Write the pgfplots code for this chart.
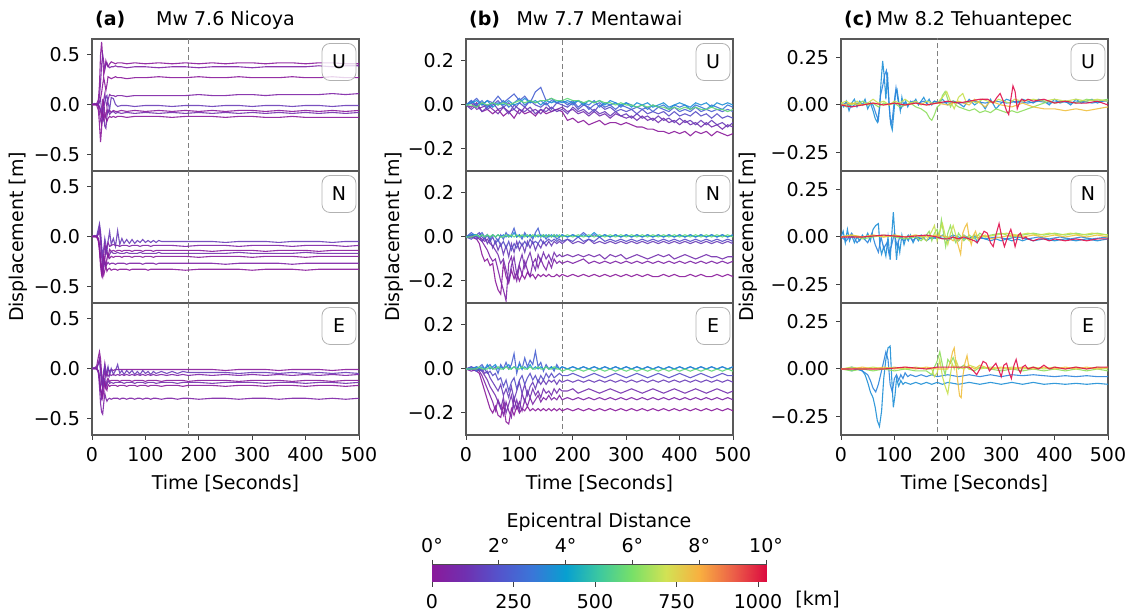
\documentclass[border=0pt]{standalone}
\usepackage{fontspec}
\setmainfont{DejaVu Sans}
\usepackage{pgfplots}
\usepackage{pgfplotstable}
\pgfplotsset{compat=1.18}

\newcommand{\fs}{\fontsize{9.5}{11}\selectfont}

\definecolor{p0}{HTML}{8A1A9B}
\definecolor{p1}{HTML}{7E24A6}
\definecolor{p2}{HTML}{7530AE}
\definecolor{p3}{HTML}{6A3DB8}
\definecolor{p4}{HTML}{5A4FC6}
\definecolor{p5}{HTML}{4A62D2}
\definecolor{p6}{HTML}{3878D8}
\definecolor{bl}{HTML}{1E8FD6}
\definecolor{bl2}{HTML}{2C84DC}
\definecolor{gr}{HTML}{60D878}
\definecolor{lg}{HTML}{8EDE5E}
\definecolor{yg}{HTML}{C8E050}
\definecolor{ye}{HTML}{F0C040}
\definecolor{rd}{HTML}{E0104C}

% (a) Nicoya
\pgfplotstableread{
t a b c d e f g h
0 0 0 0 0 0 0 0 0
5 0 0.01 0 0 0 0 0 0
9 0.01 0 0 0.01 0 -0.01 0 0
12 0.05 0.02 0 -0.02 0 -0.06 0.01 -0.01
14 0.20 0.08 0.02 -0.08 -0.02 -0.20 0.03 -0.03
16 0.50 0.22 0.06 -0.16 -0.05 -0.38 0.05 -0.07
18 0.63 0.40 0.12 -0.20 -0.08 -0.24 -0.05 -0.12
20 0.48 0.50 0.20 -0.08 -0.11 0.04 -0.16 -0.07
22 0.30 0.43 0.27 0.05 -0.03 0.02 -0.10 -0.15
24 0.35 0.36 0.21 0.11 0.03 -0.09 -0.22 -0.10
26 0.44 0.40 0.14 0.03 0.07 -0.12 -0.24 -0.14
28 0.40 0.42 0.20 -0.02 0.09 -0.05 -0.12 -0.17
30 0.38 0.39 0.28 0.05 0.02 -0.08 -0.05 -0.14
33 0.41 0.37 0.27 0.10 -0.05 -0.06 -0.10 -0.12
36 0.43 0.38 0.26 0.09 0.07 -0.08 -0.08 -0.13
40 0.42 0.38 0.27 0.09 0.06 -0.06 -0.07 -0.12
44 0.41 0.39 0.28 0.08 0.00 -0.07 -0.09 -0.13
48 0.42 0.38 0.27 0.09 -0.02 -0.07 -0.08 -0.12
55 0.42 0.38 0.27 0.09 -0.01 -0.06 -0.09 -0.12
65 0.41 0.37 0.26 0.08 -0.01 -0.07 -0.08 -0.13
80 0.42 0.38 0.27 0.09 -0.02 -0.06 -0.09 -0.12
100 0.41 0.38 0.27 0.09 -0.01 -0.07 -0.08 -0.12
125 0.42 0.37 0.28 0.09 -0.01 -0.06 -0.09 -0.12
150 0.41 0.38 0.27 0.09 -0.02 -0.07 -0.08 -0.13
175 0.42 0.38 0.27 0.09 -0.01 -0.06 -0.09 -0.12
200 0.41 0.37 0.28 0.10 -0.01 -0.07 -0.08 -0.12
225 0.42 0.38 0.27 0.09 -0.02 -0.06 -0.09 -0.12
250 0.41 0.38 0.27 0.09 -0.01 -0.07 -0.08 -0.13
275 0.42 0.38 0.28 0.10 -0.01 -0.06 -0.09 -0.12
300 0.42 0.37 0.27 0.10 -0.02 -0.06 -0.08 -0.12
325 0.41 0.38 0.27 0.09 -0.01 -0.07 -0.09 -0.13
350 0.42 0.38 0.27 0.10 -0.01 -0.06 -0.08 -0.13
375 0.42 0.38 0.28 0.10 -0.02 -0.07 -0.09 -0.12
400 0.41 0.38 0.27 0.10 -0.01 -0.06 -0.08 -0.13
425 0.42 0.39 0.27 0.10 -0.01 -0.07 -0.09 -0.13
450 0.42 0.38 0.28 0.11 -0.02 -0.06 -0.08 -0.13
475 0.41 0.39 0.27 0.10 -0.01 -0.07 -0.09 -0.13
500 0.41 0.39 0.27 0.11 -0.01 -0.06 -0.08 -0.13
}\aU

\pgfplotstableread{
t a b c d e f g
0 0 0 0 0 0 0 0
5 0 0 0 0.01 0 0 0
9 0.01 0 0 0 0 0 -0.01
12 0.08 0.02 -0.02 0.04 -0.03 -0.02 -0.05
14 0.13 0.05 -0.10 0.10 -0.12 -0.08 -0.15
16 0.05 -0.05 -0.25 0.02 -0.30 -0.20 -0.25
18 -0.10 -0.20 -0.38 -0.12 -0.38 -0.32 -0.30
20 -0.20 -0.28 -0.41 -0.25 -0.30 -0.36 -0.36
22 -0.12 -0.18 -0.30 -0.30 -0.20 -0.30 -0.39
24 -0.02 -0.08 -0.22 -0.22 -0.25 -0.25 -0.34
26 -0.08 -0.12 -0.12 -0.12 -0.30 -0.30 -0.30
28 -0.15 -0.10 -0.18 -0.14 -0.22 -0.28 -0.35
30 -0.05 -0.06 -0.20 -0.22 -0.18 -0.26 -0.33
33 0.05 -0.10 -0.13 -0.18 -0.22 -0.28 -0.32
36 -0.08 -0.09 -0.15 -0.15 -0.20 -0.27 -0.34
40 -0.02 -0.08 -0.14 -0.17 -0.21 -0.27 -0.33
44 -0.10 -0.09 -0.15 -0.17 -0.20 -0.28 -0.33
48 0.06 -0.09 -0.14 -0.16 -0.20 -0.27 -0.34
52 -0.08 -0.10 -0.14 -0.17 -0.20 -0.27 -0.33
56 -0.02 -0.09 -0.15 -0.17 -0.21 -0.27 -0.33
60 -0.07 -0.09 -0.14 -0.17 -0.20 -0.27 -0.33
65 -0.03 -0.09 -0.14 -0.16 -0.20 -0.28 -0.33
70 -0.07 -0.10 -0.14 -0.17 -0.20 -0.27 -0.34
75 -0.03 -0.09 -0.15 -0.17 -0.21 -0.27 -0.33
80 -0.07 -0.09 -0.14 -0.17 -0.20 -0.27 -0.33
85 -0.04 -0.09 -0.14 -0.17 -0.20 -0.27 -0.33
90 -0.06 -0.10 -0.14 -0.16 -0.20 -0.27 -0.33
95 -0.03 -0.09 -0.15 -0.17 -0.21 -0.28 -0.33
100 -0.06 -0.09 -0.14 -0.17 -0.20 -0.27 -0.33
105 -0.04 -0.09 -0.14 -0.17 -0.20 -0.27 -0.34
110 -0.06 -0.10 -0.14 -0.17 -0.20 -0.27 -0.33
115 -0.04 -0.09 -0.15 -0.17 -0.21 -0.27 -0.33
120 -0.06 -0.09 -0.14 -0.17 -0.20 -0.28 -0.33
125 -0.04 -0.09 -0.14 -0.16 -0.20 -0.27 -0.33
130 -0.05 -0.09 -0.14 -0.17 -0.20 -0.27 -0.33
150 -0.05 -0.09 -0.14 -0.17 -0.20 -0.27 -0.33
175 -0.05 -0.10 -0.14 -0.17 -0.20 -0.27 -0.34
200 -0.05 -0.09 -0.14 -0.17 -0.21 -0.27 -0.33
225 -0.05 -0.09 -0.15 -0.17 -0.20 -0.27 -0.33
250 -0.06 -0.09 -0.14 -0.17 -0.20 -0.28 -0.33
275 -0.05 -0.10 -0.14 -0.16 -0.20 -0.27 -0.33
300 -0.05 -0.09 -0.14 -0.17 -0.21 -0.27 -0.34
325 -0.05 -0.09 -0.15 -0.17 -0.20 -0.27 -0.33
350 -0.06 -0.09 -0.14 -0.17 -0.20 -0.27 -0.33
375 -0.05 -0.10 -0.14 -0.17 -0.20 -0.28 -0.33
400 -0.05 -0.09 -0.14 -0.16 -0.21 -0.27 -0.34
425 -0.05 -0.09 -0.15 -0.17 -0.20 -0.27 -0.33
450 -0.06 -0.09 -0.14 -0.17 -0.20 -0.27 -0.33
475 -0.05 -0.10 -0.14 -0.17 -0.20 -0.27 -0.33
500 -0.05 -0.09 -0.14 -0.17 -0.20 -0.27 -0.33
}\aN

\pgfplotstableread{
t a b c d e f g
0 0 0 0 0 0 0 0
5 0 0.01 0 0 0 0 0
9 0.03 0 0.01 0 -0.01 0 0
12 0.12 0.05 0.05 -0.03 -0.02 -0.03 -0.05
14 0.17 0.08 0.10 -0.10 -0.08 -0.10 -0.18
16 0.10 -0.05 0.02 -0.22 -0.20 -0.20 -0.35
18 -0.05 -0.15 -0.12 -0.28 -0.30 -0.25 -0.44
20 -0.15 -0.10 -0.20 -0.20 -0.25 -0.30 -0.46
22 -0.05 -0.02 -0.10 -0.10 -0.12 -0.22 -0.35
24 0.05 0.03 -0.02 -0.16 -0.10 -0.15 -0.25
26 -0.02 -0.08 -0.08 -0.20 -0.18 -0.20 -0.30
28 -0.06 -0.02 -0.05 -0.12 -0.16 -0.22 -0.33
30 0.00 0.02 -0.08 -0.10 -0.12 -0.16 -0.31
33 -0.03 -0.07 -0.06 -0.13 -0.15 -0.18 -0.30
36 -0.01 0.00 -0.07 -0.12 -0.14 -0.17 -0.31
40 -0.02 -0.06 -0.06 -0.12 -0.15 -0.17 -0.30
44 -0.01 -0.02 -0.07 -0.12 -0.14 -0.17 -0.30
48 -0.01 0.04 -0.06 -0.12 -0.14 -0.18 -0.30
52 -0.01 -0.05 -0.07 -0.13 -0.14 -0.17 -0.31
56 -0.01 -0.02 -0.06 -0.12 -0.14 -0.17 -0.30
60 -0.01 -0.06 -0.07 -0.12 -0.15 -0.17 -0.30
65 -0.01 -0.02 -0.06 -0.12 -0.14 -0.18 -0.31
70 -0.01 -0.05 -0.07 -0.12 -0.14 -0.17 -0.30
75 -0.01 -0.02 -0.06 -0.13 -0.14 -0.17 -0.30
80 -0.01 -0.06 -0.07 -0.12 -0.15 -0.17 -0.31
85 -0.01 -0.03 -0.06 -0.12 -0.14 -0.18 -0.30
90 -0.01 -0.06 -0.07 -0.12 -0.14 -0.17 -0.30
95 -0.01 -0.02 -0.06 -0.12 -0.14 -0.17 -0.31
100 -0.01 -0.05 -0.07 -0.13 -0.15 -0.17 -0.30
105 -0.01 -0.03 -0.06 -0.12 -0.14 -0.18 -0.30
110 -0.01 -0.06 -0.07 -0.12 -0.14 -0.17 -0.31
115 -0.01 -0.03 -0.06 -0.12 -0.14 -0.17 -0.30
120 -0.01 -0.05 -0.07 -0.12 -0.15 -0.17 -0.30
130 -0.01 -0.03 -0.06 -0.13 -0.14 -0.18 -0.31
140 -0.01 -0.05 -0.07 -0.12 -0.14 -0.17 -0.30
150 -0.01 -0.03 -0.06 -0.12 -0.14 -0.17 -0.30
160 -0.01 -0.05 -0.07 -0.12 -0.15 -0.17 -0.31
170 -0.01 -0.03 -0.06 -0.12 -0.14 -0.18 -0.30
180 -0.01 -0.04 -0.07 -0.13 -0.14 -0.17 -0.30
200 -0.01 -0.04 -0.06 -0.12 -0.14 -0.17 -0.31
225 -0.01 -0.04 -0.07 -0.12 -0.15 -0.17 -0.30
250 -0.02 -0.04 -0.06 -0.12 -0.14 -0.18 -0.30
275 -0.01 -0.05 -0.07 -0.13 -0.14 -0.17 -0.31
300 -0.01 -0.04 -0.06 -0.12 -0.14 -0.17 -0.30
325 -0.01 -0.04 -0.07 -0.12 -0.15 -0.18 -0.30
350 -0.02 -0.05 -0.06 -0.12 -0.14 -0.17 -0.31
375 -0.01 -0.04 -0.07 -0.13 -0.14 -0.17 -0.30
400 -0.01 -0.05 -0.06 -0.12 -0.15 -0.18 -0.30
425 -0.01 -0.04 -0.07 -0.12 -0.14 -0.17 -0.31
450 -0.02 -0.05 -0.06 -0.13 -0.14 -0.17 -0.30
475 -0.01 -0.04 -0.07 -0.12 -0.15 -0.18 -0.31
500 -0.01 -0.05 -0.06 -0.12 -0.14 -0.17 -0.30
}\aE

% (b) Mentawai
\pgfplotstableread{
t a b c d e f g h
0 0 0 0 0 0 0 0 0
10 -0.01 0.01 -0.02 0.02 0.01 0.02 0.01 0.00
20 0.01 -0.02 0.00 -0.01 0.03 0.00 0.02 -0.01
30 -0.03 -0.01 -0.03 0.01 0.00 0.02 0.00 0.01
40 -0.02 0.00 -0.01 -0.02 0.02 -0.01 0.02 0.00
50 -0.04 -0.02 0.01 0.00 0.01 0.01 -0.01 0.01
60 -0.02 -0.04 -0.02 0.02 0.04 0.00 0.01 0.00
70 -0.05 -0.01 -0.01 -0.01 0.01 0.02 0.00 0.01
80 -0.03 -0.03 -0.04 0.01 0.03 -0.01 0.02 0.00
90 -0.06 -0.02 0.00 -0.02 0.05 0.01 0.00 0.01
100 -0.02 -0.04 -0.02 0.01 0.02 0.03 0.01 0.02
110 -0.04 -0.01 -0.03 -0.01 0.04 0.00 0.03 0.01
120 -0.03 -0.03 -0.01 0.02 0.01 0.02 0.01 0.02
130 -0.05 -0.02 -0.04 0.00 0.06 0.01 0.02 0.01
140 -0.02 -0.04 -0.02 -0.01 0.08 0.02 0.00 0.02
150 -0.04 -0.01 -0.03 0.01 0.02 0.00 0.02 0.02
160 -0.03 -0.03 -0.01 -0.02 0.03 0.02 0.01 0.03
170 -0.02 -0.02 -0.03 0.01 0.01 0.01 0.02 0.02
180 -0.03 -0.01 -0.02 0.00 0.02 0.02 0.01 0.02
190 -0.07 -0.03 -0.04 -0.01 0.00 0.01 0.02 0.03
200 -0.06 -0.02 -0.01 0.01 0.02 0.00 0.01 0.02
210 -0.08 -0.04 -0.03 -0.02 -0.01 0.02 0.02 0.02
220 -0.07 -0.03 -0.02 0.00 0.01 0.01 0.00 0.01
230 -0.09 -0.05 -0.04 -0.01 -0.02 0.00 0.02 0.02
240 -0.08 -0.03 -0.02 -0.03 0.00 0.02 0.01 0.01
250 -0.07 -0.05 -0.04 0.00 0.01 -0.01 0.02 0.02
260 -0.09 -0.04 -0.03 -0.02 -0.01 0.01 0.00 0.01
270 -0.08 -0.06 -0.05 -0.01 0.00 0.00 0.02 0.01
280 -0.08 -0.04 -0.03 -0.03 -0.02 0.01 0.01 0.00
290 -0.09 -0.05 -0.05 -0.02 0.00 -0.01 0.00 0.01
300 -0.08 -0.06 -0.04 -0.03 -0.01 0.01 0.01 0.00
310 -0.09 -0.05 -0.06 -0.02 -0.02 0.00 -0.01 0.00
320 -0.10 -0.07 -0.04 -0.04 -0.01 -0.01 0.01 -0.01
330 -0.10 -0.05 -0.06 -0.02 -0.02 0.00 0.00 0.00
340 -0.11 -0.07 -0.05 -0.04 -0.01 -0.02 0.01 -0.01
350 -0.11 -0.06 -0.07 -0.03 -0.03 0.00 -0.01 0.00
360 -0.12 -0.08 -0.05 -0.04 -0.01 -0.01 0.00 -0.01
370 -0.12 -0.06 -0.07 -0.03 -0.02 0.00 0.01 -0.01
380 -0.13 -0.08 -0.06 -0.05 -0.03 -0.02 -0.01 -0.02
390 -0.12 -0.07 -0.08 -0.03 -0.01 0.00 0.00 -0.01
400 -0.13 -0.09 -0.06 -0.05 -0.03 -0.01 0.01 -0.02
410 -0.12 -0.07 -0.08 -0.04 -0.02 0.00 0.00 -0.01
420 -0.14 -0.09 -0.07 -0.05 -0.03 -0.02 -0.01 -0.02
430 -0.12 -0.08 -0.09 -0.03 -0.01 0.00 0.01 -0.01
440 -0.13 -0.10 -0.07 -0.05 -0.03 -0.01 0.00 -0.02
450 -0.12 -0.08 -0.09 -0.04 -0.02 -0.02 0.01 -0.02
460 -0.14 -0.10 -0.07 -0.06 -0.03 0.00 -0.01 -0.01
470 -0.12 -0.09 -0.09 -0.04 -0.02 -0.01 0.01 -0.02
480 -0.13 -0.11 -0.08 -0.06 -0.03 -0.02 0.00 -0.02
490 -0.14 -0.09 -0.10 -0.05 -0.02 0.00 0.01 -0.03
500 -0.13 -0.10 -0.08 -0.06 -0.03 -0.01 0.00 -0.02
}\bU

\pgfplotstableread{
t a b c d e f g h
0 0 0 0 0 0 0 0 0
10 0.00 0.01 0.00 0.01 -0.01 0.02 0.01 0.00
20 -0.01 0.00 0.01 -0.01 0.01 0.00 0.01 0.01
25 -0.03 -0.01 0.00 0.00 0.02 0.01 0.00 0.00
30 -0.08 -0.02 -0.01 -0.02 0.00 0.02 0.01 0.01
35 -0.11 -0.04 -0.02 0.00 -0.01 0.00 0.00 0.00
40 -0.10 -0.06 -0.01 -0.03 0.01 0.01 0.01 0.01
45 -0.13 -0.09 -0.03 -0.01 -0.02 -0.01 0.00 0.00
50 -0.12 -0.11 -0.04 -0.05 0.00 0.01 0.01 0.01
55 -0.20 -0.10 -0.06 -0.02 -0.03 0.00 0.00 0.00
60 -0.24 -0.15 -0.08 -0.06 -0.01 -0.02 0.01 0.01
65 -0.26 -0.20 -0.12 -0.03 -0.04 0.01 0.00 0.00
70 -0.12 -0.24 -0.10 -0.08 -0.02 -0.01 0.01 0.00
75 -0.18 -0.29 -0.15 -0.04 -0.05 0.02 0.00 0.01
80 -0.21 -0.12 -0.20 -0.09 -0.02 0.00 0.01 0.00
85 -0.15 -0.09 -0.13 -0.03 -0.06 0.01 0.00 0.01
90 -0.19 -0.16 -0.09 -0.07 -0.03 0.04 0.02 0.00
95 -0.16 -0.20 -0.17 -0.02 -0.05 0.00 0.00 0.01
100 -0.20 -0.13 -0.12 -0.06 -0.02 0.01 0.01 0.00
105 -0.17 -0.17 -0.08 -0.03 -0.04 -0.01 0.00 0.01
110 -0.19 -0.11 -0.14 -0.07 -0.02 0.02 0.01 0.00
115 -0.16 -0.15 -0.10 -0.02 -0.04 0.00 0.00 0.01
120 -0.18 -0.18 -0.07 -0.05 -0.01 0.01 0.01 0.00
125 -0.17 -0.12 -0.12 -0.02 -0.03 -0.01 0.00 0.01
130 -0.19 -0.10 -0.15 -0.06 -0.02 0.02 0.01 0.00
135 -0.17 -0.14 -0.08 -0.03 -0.03 0.04 0.00 0.01
140 -0.18 -0.10 -0.11 -0.05 -0.01 0.00 0.01 0.00
145 -0.17 -0.13 -0.07 -0.02 -0.03 0.01 0.00 0.01
150 -0.18 -0.15 -0.10 -0.04 -0.02 -0.01 0.01 0.00
155 -0.17 -0.11 -0.08 -0.02 -0.01 0.01 0.00 0.01
160 -0.18 -0.14 -0.11 -0.04 -0.02 0.00 0.01 0.00
165 -0.18 -0.10 -0.07 -0.02 -0.01 0.01 0.00 0.01
170 -0.17 -0.12 -0.09 -0.03 -0.02 -0.01 0.01 0.00
175 -0.18 -0.11 -0.08 -0.02 -0.01 0.00 0.00 0.01
180 -0.17 -0.12 -0.09 -0.03 -0.02 0.01 0.01 0.00
190 -0.18 -0.11 -0.08 -0.01 -0.01 0.00 0.00 0.01
200 -0.17 -0.12 -0.09 -0.03 -0.02 0.01 0.01 0.00
210 -0.18 -0.11 -0.08 -0.02 0.00 0.00 0.00 0.01
220 -0.17 -0.10 -0.09 -0.03 -0.02 0.02 0.01 0.00
230 -0.18 -0.12 -0.08 -0.01 -0.01 0.00 0.00 0.01
240 -0.17 -0.11 -0.09 -0.03 -0.02 0.01 0.02 0.00
250 -0.18 -0.12 -0.08 -0.02 0.00 0.00 0.00 0.01
260 -0.17 -0.11 -0.10 -0.03 -0.02 0.01 0.01 0.00
270 -0.18 -0.12 -0.08 -0.02 -0.01 0.00 0.00 0.01
280 -0.17 -0.11 -0.09 -0.03 -0.02 0.01 0.01 0.00
290 -0.18 -0.12 -0.08 -0.02 -0.01 0.00 0.00 0.01
300 -0.17 -0.11 -0.10 -0.03 -0.02 0.01 0.01 0.00
310 -0.18 -0.12 -0.09 -0.02 -0.01 0.00 0.00 0.01
320 -0.17 -0.11 -0.08 -0.03 -0.02 0.01 0.01 0.00
330 -0.18 -0.12 -0.09 -0.02 -0.01 0.00 0.00 0.01
340 -0.17 -0.11 -0.10 -0.03 -0.02 0.01 0.01 0.00
350 -0.18 -0.12 -0.09 -0.02 -0.01 0.00 0.00 0.01
360 -0.18 -0.11 -0.08 -0.03 -0.02 0.01 0.01 0.00
370 -0.17 -0.12 -0.09 -0.02 -0.01 0.00 0.00 0.01
380 -0.18 -0.11 -0.08 -0.03 -0.02 0.01 0.01 0.00
390 -0.17 -0.12 -0.10 -0.02 -0.01 0.00 0.00 0.01
400 -0.18 -0.11 -0.09 -0.03 -0.02 0.01 0.01 0.00
410 -0.18 -0.12 -0.08 -0.02 -0.01 0.00 0.00 0.01
420 -0.17 -0.11 -0.09 -0.03 -0.02 0.01 0.01 0.00
430 -0.18 -0.12 -0.10 -0.02 -0.01 0.00 0.00 0.01
440 -0.17 -0.11 -0.09 -0.03 -0.02 0.01 0.01 0.00
450 -0.18 -0.12 -0.08 -0.02 -0.01 0.00 0.00 0.01
460 -0.18 -0.11 -0.09 -0.03 -0.02 0.01 0.01 0.00
470 -0.17 -0.12 -0.09 -0.02 -0.01 0.00 0.00 0.01
480 -0.18 -0.11 -0.10 -0.03 -0.02 0.01 0.01 0.00
490 -0.17 -0.12 -0.09 -0.02 -0.01 0.00 0.00 0.01
500 -0.18 -0.11 -0.09 -0.03 -0.02 0.01 0.01 0.00
}\bN

\pgfplotstableread{
t a b c d e f g h
0 0 0 0 0 0 0 0 0
10 0.00 -0.01 0.00 0.01 0.00 0.01 0.00 0.00
20 -0.01 0.00 -0.01 0.00 0.01 -0.01 0.01 0.00
25 -0.02 -0.01 0.00 -0.01 0.00 0.01 0.00 0.01
30 -0.06 -0.03 -0.01 0.00 -0.01 0.02 0.01 0.00
35 -0.10 -0.06 -0.03 -0.02 0.00 0.00 0.00 0.00
40 -0.14 -0.09 -0.05 -0.01 -0.02 0.01 0.02 0.00
45 -0.18 -0.12 -0.08 -0.04 -0.01 0.02 0.00 0.01
50 -0.20 -0.15 -0.10 -0.06 -0.03 0.00 0.01 0.00
55 -0.17 -0.19 -0.12 -0.08 -0.02 0.01 0.02 0.00
60 -0.21 -0.14 -0.15 -0.10 -0.05 -0.02 0.00 0.01
65 -0.22 -0.17 -0.18 -0.07 -0.04 0.02 0.01 0.00
70 -0.16 -0.21 -0.13 -0.12 -0.08 0.00 0.00 0.00
75 -0.24 -0.15 -0.20 -0.09 -0.05 0.03 0.01 0.01
80 -0.25 -0.19 -0.16 -0.13 -0.10 0.00 0.02 0.00
85 -0.18 -0.22 -0.12 -0.08 -0.06 0.02 0.00 0.00
90 -0.21 -0.13 -0.18 -0.14 -0.04 0.07 0.01 0.01
95 -0.17 -0.18 -0.14 -0.10 -0.09 -0.02 0.00 0.00
100 -0.20 -0.15 -0.19 -0.06 -0.05 0.03 0.02 0.00
105 -0.18 -0.19 -0.11 -0.11 -0.03 0.00 0.00 0.01
110 -0.19 -0.14 -0.15 -0.07 -0.07 0.05 0.01 0.00
115 -0.17 -0.17 -0.10 -0.12 -0.04 0.01 0.00 0.00
120 -0.19 -0.13 -0.13 -0.08 -0.02 0.04 0.02 0.01
125 -0.18 -0.16 -0.09 -0.06 -0.05 0.02 0.00 0.00
130 -0.19 -0.14 -0.12 -0.09 -0.03 0.08 0.01 0.00
135 -0.18 -0.12 -0.10 -0.05 -0.06 0.01 0.00 0.01
140 -0.19 -0.15 -0.13 -0.07 -0.03 0.03 0.01 0.00
145 -0.18 -0.13 -0.09 -0.05 -0.05 -0.01 0.00 0.00
150 -0.19 -0.14 -0.11 -0.07 -0.02 0.02 0.01 0.01
155 -0.18 -0.12 -0.10 -0.05 -0.04 0.00 0.00 0.00
160 -0.19 -0.14 -0.12 -0.06 -0.02 0.01 0.01 0.00
165 -0.18 -0.13 -0.09 -0.05 -0.04 -0.01 0.00 0.01
170 -0.19 -0.14 -0.11 -0.07 -0.03 0.02 0.01 0.00
175 -0.18 -0.12 -0.09 -0.05 -0.02 0.00 0.00 0.00
180 -0.19 -0.14 -0.10 -0.06 -0.03 0.01 0.01 -0.01
190 -0.18 -0.13 -0.10 -0.05 -0.03 0.00 0.00 0.00
200 -0.19 -0.14 -0.09 -0.06 -0.02 0.01 0.01 -0.01
210 -0.18 -0.13 -0.11 -0.05 -0.03 0.00 0.00 0.00
220 -0.19 -0.14 -0.10 -0.06 -0.04 0.01 0.01 -0.01
230 -0.18 -0.13 -0.09 -0.05 -0.03 0.00 0.00 0.00
240 -0.19 -0.14 -0.10 -0.06 -0.02 0.01 0.01 -0.01
250 -0.18 -0.13 -0.11 -0.05 -0.03 0.00 0.00 0.00
260 -0.19 -0.14 -0.10 -0.06 -0.04 0.01 0.01 -0.01
270 -0.18 -0.13 -0.09 -0.05 -0.03 0.00 0.00 0.00
280 -0.19 -0.14 -0.10 -0.06 -0.02 0.01 0.01 -0.01
290 -0.18 -0.13 -0.11 -0.05 -0.03 0.00 0.00 0.00
300 -0.19 -0.14 -0.10 -0.06 -0.04 0.01 0.01 -0.01
310 -0.18 -0.13 -0.09 -0.05 -0.03 0.00 0.00 0.00
320 -0.19 -0.14 -0.10 -0.06 -0.02 0.01 0.01 -0.01
330 -0.18 -0.13 -0.11 -0.05 -0.03 0.00 0.00 0.00
340 -0.19 -0.14 -0.10 -0.06 -0.04 0.01 0.01 -0.01
350 -0.18 -0.13 -0.09 -0.05 -0.03 0.00 0.00 0.00
360 -0.19 -0.14 -0.10 -0.06 -0.02 0.01 0.01 -0.01
370 -0.18 -0.13 -0.11 -0.05 -0.03 0.00 0.00 0.00
380 -0.19 -0.14 -0.10 -0.06 -0.04 0.01 0.01 -0.01
390 -0.18 -0.13 -0.09 -0.05 -0.03 0.00 0.00 0.00
400 -0.19 -0.14 -0.10 -0.06 -0.02 0.01 0.01 -0.01
410 -0.18 -0.13 -0.11 -0.05 -0.03 0.00 0.00 0.00
420 -0.19 -0.14 -0.10 -0.06 -0.04 0.01 0.01 -0.01
430 -0.18 -0.13 -0.09 -0.05 -0.03 0.00 0.00 0.00
440 -0.19 -0.14 -0.10 -0.06 -0.02 0.01 0.01 -0.01
450 -0.18 -0.13 -0.11 -0.05 -0.03 0.00 0.00 0.00
460 -0.19 -0.14 -0.10 -0.06 -0.04 0.01 0.01 -0.01
470 -0.18 -0.13 -0.09 -0.05 -0.03 0.00 0.00 0.00
480 -0.19 -0.14 -0.10 -0.06 -0.02 0.01 0.01 -0.01
490 -0.18 -0.13 -0.11 -0.05 -0.03 0.00 0.00 0.00
500 -0.19 -0.14 -0.10 -0.06 -0.03 0.01 0.01 -0.01
}\bE

\pgfplotsset{
  colormap={spec}{rgb255(0)=(138,26,155) rgb255(1)=(112,48,176) rgb255(2)=(84,84,204)
    rgb255(3)=(58,118,216) rgb255(4)=(8,160,208) rgb255(5)=(60,200,160)
    rgb255(6)=(120,224,104) rgb255(7)=(210,226,84) rgb255(8)=(248,176,64)
    rgb255(9)=(236,96,72) rgb255(10)=(220,12,64)},
  panel/.style={scale only axis, width=133.5pt, height=66pt, anchor=north west,
    xmin=0, xmax=500, xtick=\empty,
    axis line style={black!65, line width=0.55pt},
    tick style={black!75, line width=0.5pt},
    tick align=outside, tick pos=left, major tick length=2.5pt,
    tick label style={font=\fs}, label style={font=\fs}},
  bottom/.style={xtick={0,100,200,300,400,500}, xticklabels={0,100,200,300,400,500},
    xlabel={Time [Seconds]}},
  mid/.style={ylabel={Displacement [m]}},
  colA/.style={ymin=-0.67, ymax=0.66, ytick={-0.5,0,0.5}, yticklabels={−0.5,0.0,0.5},
    ylabel style={yshift=-3.5pt}},
  colB/.style={ymin=-0.3, ymax=0.3, ytick={-0.2,0,0.2}, yticklabels={−0.2,0.0,0.2},
    ylabel style={yshift=-4.5pt}},
  colC/.style={ymin=-0.345, ymax=0.345, ytick={-0.25,0,0.25}, yticklabels={−0.25,0.00,0.25}},
  tr/.style={line width=0.55pt, opacity=0.9},
}
\tikzset{
  vl/.style={black!50, line width=0.5pt, dash pattern=on 2.5pt off 1.5pt},
  cmpbox/.style={draw=black!30, rounded corners=4pt, fill=white, fill opacity=0.8,
  text opacity=1, minimum width=17pt, minimum height=18.5pt, inner sep=0pt, font=\fs}}
\newcommand{\cmp}[2]{\node[cmpbox] at ([xshift=-10pt,yshift=-11.5pt]#1.north east) {#2};}

\begin{document}
\begin{tikzpicture}
\path[use as bounding box] (0,0) rectangle (566.5pt,306.5pt);

% ---------- column (a)
\begin{axis}[panel, colA, name=aU, at={(46pt,287pt)}]
\draw[vl] (axis cs:180,-1) -- (axis cs:180,1);
\addplot[tr,p0] table[x=t,y=a] {\aU};
\addplot[tr,p1] table[x=t,y=b] {\aU};
\addplot[tr,p0] table[x=t,y=c] {\aU};
\addplot[tr,p1] table[x=t,y=d] {\aU};
\addplot[tr,p3] table[x=t,y=e] {\aU};
\addplot[tr,p0] table[x=t,y=f] {\aU};
\addplot[tr,p2] table[x=t,y=g] {\aU};
\addplot[tr,p0] table[x=t,y=h] {\aU};
\end{axis}
\begin{axis}[panel, colA, mid, name=aN, at={(46pt,221pt)}]
\draw[vl] (axis cs:180,-1) -- (axis cs:180,1);
\addplot[tr,p3] table[x=t,y=a] {\aN};
\addplot[tr,p1] table[x=t,y=b] {\aN};
\addplot[tr,p0] table[x=t,y=c] {\aN};
\addplot[tr,p2] table[x=t,y=d] {\aN};
\addplot[tr,p0] table[x=t,y=e] {\aN};
\addplot[tr,p1] table[x=t,y=f] {\aN};
\addplot[tr,p0] table[x=t,y=g] {\aN};
\end{axis}
\begin{axis}[panel, colA, bottom, name=aE, at={(46pt,155pt)}]
\draw[vl] (axis cs:180,-1) -- (axis cs:180,1);
\addplot[tr,p0] table[x=t,y=a] {\aE};
\addplot[tr,p3] table[x=t,y=b] {\aE};
\addplot[tr,p1] table[x=t,y=c] {\aE};
\addplot[tr,p0] table[x=t,y=d] {\aE};
\addplot[tr,p2] table[x=t,y=e] {\aE};
\addplot[tr,p0] table[x=t,y=f] {\aE};
\addplot[tr,p1] table[x=t,y=g] {\aE};
\end{axis}

% ---------- column (b)
\begin{axis}[panel, colB, name=bU, at={(233pt,287pt)}]
\draw[vl] (axis cs:180,-1) -- (axis cs:180,1);
\addplot[tr,p0] table[x=t,y=a] {\bU};
\addplot[tr,p2] table[x=t,y=b] {\bU};
\addplot[tr,p3] table[x=t,y=c] {\bU};
\addplot[tr,p4] table[x=t,y=d] {\bU};
\addplot[tr,p5] table[x=t,y=e] {\bU};
\addplot[tr,p6] table[x=t,y=f] {\bU};
\addplot[tr,bl] table[x=t,y=g] {\bU};
\addplot[tr,gr] table[x=t,y=h] {\bU};
\end{axis}
\begin{axis}[panel, colB, mid, name=bN, at={(233pt,221pt)}]
\draw[vl] (axis cs:180,-1) -- (axis cs:180,1);
\addplot[tr,p0] table[x=t,y=a] {\bN};
\addplot[tr,p1] table[x=t,y=b] {\bN};
\addplot[tr,p2] table[x=t,y=c] {\bN};
\addplot[tr,p3] table[x=t,y=d] {\bN};
\addplot[tr,p4] table[x=t,y=e] {\bN};
\addplot[tr,p5] table[x=t,y=f] {\bN};
\addplot[tr,bl] table[x=t,y=g] {\bN};
\addplot[tr,gr] table[x=t,y=h] {\bN};
\end{axis}
\begin{axis}[panel, colB, bottom, name=bE, at={(233pt,155pt)}]
\draw[vl] (axis cs:180,-1) -- (axis cs:180,1);
\addplot[tr,p0] table[x=t,y=a] {\bE};
\addplot[tr,p1] table[x=t,y=b] {\bE};
\addplot[tr,p2] table[x=t,y=c] {\bE};
\addplot[tr,p3] table[x=t,y=d] {\bE};
\addplot[tr,p4] table[x=t,y=e] {\bE};
\addplot[tr,p5] table[x=t,y=f] {\bE};
\addplot[tr,bl] table[x=t,y=g] {\bE};
\addplot[tr,gr] table[x=t,y=h] {\bE};
\end{axis}

% ---------- column (c)
\begin{axis}[panel, colC, name=cU, at={(420.5pt,287pt)}]
\draw[vl] (axis cs:180,-1) -- (axis cs:180,1);
\addplot[tr,bl] coordinates {(0,0.01)(5,-0.01)(10,0.02)(15,-0.03)(20,0.01)(25,0.03)(30,-0.01)(35,0.02)(40,0.0)(45,0.03)(50,-0.02)(55,0.01)(60,-0.03)(64,-0.07)(68,-0.09)(72,-0.02)(75,0.12)(78,0.23)(81,0.15)(84,0.03)(87,0.17)(90,0.0)(93,-0.10)(96,-0.13)(99,-0.04)(102,0.06)(105,0.08)(108,0.02)(111,-0.03)(114,0.04)(117,0.0)(121,0.02)(125,-0.01)(130,0.02)(135,0.01)(140,0.03)(145,0.0)(150,0.02)(155,0.04)(160,0.01)(165,0.03)(170,0.0)(175,0.02)(180,0.01)(190,0.03)(200,0.0)(210,0.02)(220,0.01)(230,-0.01)(240,0.03)(250,0.0)(260,0.02)(270,-0.02)(280,0.03)(290,-0.02)(300,0.01)(310,0.03)(320,0.02)(330,0.01)(340,0.03)(350,0.02)(360,0.01)(370,0.03)(380,0.02)(390,0.0)(400,0.03)(410,0.01)(420,0.02)(430,0.0)(440,0.03)(450,0.01)(460,0.02)(470,0.03)(480,0.01)(490,0.02)(500,0.03)};
\addplot[tr,bl2] coordinates {(0,0.0)(10,0.01)(20,-0.01)(30,0.01)(40,0.0)(50,0.01)(60,0.0)(66,-0.05)(70,-0.08)(74,0.05)(78,0.10)(82,0.16)(85,0.18)(89,0.05)(92,-0.07)(95,-0.10)(99,0.0)(103,0.09)(107,0.02)(112,-0.02)(118,0.01)(125,0.0)(135,0.02)(145,0.01)(155,0.02)(165,0.0)(175,0.02)(190,0.01)(210,0.02)(230,0.01)(250,0.02)(270,0.01)(290,0.02)(310,0.01)(330,0.02)(350,0.01)(370,0.02)(390,0.01)(410,0.02)(430,0.01)(450,0.02)(470,0.01)(490,0.02)(500,0.02)};
\addplot[tr,lg] coordinates {(0,0.01)(10,-0.01)(20,0.01)(30,0.0)(40,0.02)(50,0.0)(60,0.01)(70,-0.01)(80,0.01)(90,0.0)(100,0.01)(110,-0.01)(120,0.0)(130,0.01)(140,-0.01)(150,-0.02)(160,-0.04)(166,-0.07)(170,-0.08)(175,-0.05)(180,-0.01)(185,0.0)(190,0.05)(195,0.07)(200,0.03)(205,-0.01)(210,0.02)(215,0.0)(220,-0.01)(230,-0.02)(240,-0.03)(250,-0.02)(260,-0.04)(270,-0.03)(280,-0.04)(290,-0.02)(300,-0.03)(310,-0.04)(320,-0.03)(330,-0.04)(340,-0.03)(350,-0.02)(360,-0.01)(370,0.0)(380,0.01)(390,0.02)(400,0.01)(420,0.02)(440,0.01)(460,0.03)(480,0.02)(500,0.03)};
\addplot[tr,yg] coordinates {(0,0.01)(10,0.02)(20,0.0)(30,0.02)(40,0.0)(50,0.01)(60,0.03)(70,0.01)(80,0.02)(90,0.0)(100,0.02)(110,0.01)(120,0.03)(130,0.01)(140,0.02)(150,0.0)(160,0.02)(170,0.01)(180,0.01)(190,0.04)(198,0.07)(205,0.02)(212,-0.02)(220,0.04)(228,0.06)(235,0.01)(245,0.02)(255,0.01)(265,0.03)(275,0.02)(285,0.01)(295,0.03)(305,0.02)(315,0.01)(325,0.03)(340,0.02)(360,0.03)(380,0.02)(400,0.03)(420,0.02)(440,0.03)(460,0.02)(480,0.03)(500,0.02)};
\addplot[tr,ye] coordinates {(0,0.0)(20,0.01)(40,0.0)(60,0.01)(80,0.0)(100,0.01)(120,0.0)(140,0.01)(160,0.0)(180,0.01)(200,0.0)(220,0.02)(240,0.0)(250,0.03)(260,0.01)(270,-0.01)(280,0.02)(300,0.0)(320,-0.01)(340,0.01)(360,-0.01)(380,-0.02)(400,-0.02)(420,-0.03)(440,-0.02)(460,-0.03)(480,-0.02)(500,-0.01)};
\addplot[tr,rd] coordinates {(0,0.0)(20,-0.01)(40,0.0)(60,0.01)(80,0.0)(100,0.01)(120,0.0)(140,0.01)(160,0.0)(180,0.01)(200,0.02)(220,0.01)(240,0.02)(260,0.03)(275,0.03)(285,0.01)(292,0.04)(298,0.06)(304,0.02)(310,-0.03)(314,-0.05)(318,0.03)(322,0.10)(326,0.07)(330,-0.02)(334,0.01)(338,0.03)(344,0.02)(350,0.03)(360,0.02)(380,0.03)(400,0.01)(420,0.02)(440,0.01)(460,0.01)(480,0.02)(500,0.0)};
\end{axis}
\begin{axis}[panel, colC, mid, name=cN, at={(420.5pt,221pt)}]
\draw[vl] (axis cs:180,-1) -- (axis cs:180,1);
\addplot[tr,bl] coordinates {(0,0.0)(4,0.03)(8,-0.03)(12,0.04)(16,-0.02)(20,0.01)(25,-0.03)(30,0.0)(35,-0.02)(40,0.01)(45,-0.01)(50,0.02)(55,-0.02)(60,0.04)(65,0.06)(70,0.07)(73,-0.05)(76,-0.09)(80,-0.05)(84,-0.10)(88,0.0)(92,-0.12)(96,0.05)(98,0.13)(101,0.0)(104,-0.12)(107,-0.03)(110,-0.08)(114,0.01)(118,-0.04)(122,0.0)(126,-0.02)(130,0.01)(135,-0.03)(140,0.0)(145,-0.02)(150,0.01)(160,-0.02)(170,0.0)(180,-0.01)(190,0.01)(200,-0.02)(210,0.0)(220,-0.02)(230,0.01)(240,-0.01)(250,0.01)(255,-0.03)(260,0.0)(270,-0.01)(280,-0.02)(290,-0.01)(300,-0.02)(310,-0.01)(320,-0.02)(330,-0.01)(340,-0.02)(350,-0.01)(360,-0.02)(380,-0.01)(400,-0.02)(420,-0.01)(440,-0.02)(460,-0.01)(480,-0.02)(500,-0.01)};
\addplot[tr,bl2] coordinates {(0,0.0)(10,-0.02)(20,0.02)(30,-0.03)(40,0.0)(50,-0.03)(58,0.02)(64,-0.04)(70,-0.08)(75,0.0)(80,-0.06)(86,-0.03)(90,-0.09)(95,-0.04)(100,0.02)(105,-0.05)(110,0.0)(118,-0.02)(126,0.01)(134,-0.02)(142,0.0)(150,-0.01)(160,0.01)(170,-0.01)(180,0.0)(195,-0.01)(210,0.01)(230,-0.01)(250,0.0)(270,-0.01)(290,0.0)(310,-0.01)(330,0.0)(350,-0.01)(370,0.0)(390,-0.01)(410,0.0)(430,-0.01)(450,0.0)(470,-0.01)(500,0.0)};
\addplot[tr,lg] coordinates {(0,0.0)(20,0.01)(40,-0.01)(60,0.0)(80,0.01)(100,0.0)(120,-0.01)(140,0.0)(150,-0.02)(160,0.01)(165,0.03)(170,-0.02)(175,0.02)(180,0.04)(184,0.0)(188,0.09)(192,0.02)(196,-0.05)(200,0.02)(205,0.06)(210,0.0)(215,-0.03)(220,0.02)(225,0.0)(230,-0.02)(240,0.01)(250,-0.01)(260,0.02)(270,0.0)(280,0.01)(300,0.02)(320,0.0)(340,0.01)(360,0.02)(380,0.01)(400,0.02)(420,0.01)(440,0.02)(460,0.01)(480,0.02)(500,0.01)};
\addplot[tr,yg] coordinates {(0,0.0)(20,0.01)(40,0.0)(60,0.01)(80,0.0)(100,0.01)(120,0.0)(140,0.01)(150,0.0)(160,-0.02)(170,0.03)(175,0.06)(180,-0.02)(185,0.03)(190,0.07)(195,0.01)(200,-0.04)(205,0.02)(210,0.06)(215,0.01)(220,-0.02)(230,0.01)(240,-0.02)(250,0.01)(270,0.0)(290,0.01)(310,0.02)(330,0.01)(350,0.02)(370,0.01)(390,0.02)(410,0.01)(430,0.02)(450,0.01)(470,0.02)(500,0.01)};
\addplot[tr,ye] coordinates {(0,0.0)(20,0.01)(40,0.0)(60,0.01)(80,0.0)(100,0.01)(120,0.0)(140,0.01)(160,0.0)(180,0.01)(200,0.0)(210,-0.02)(215,0.0)(220,-0.05)(224,-0.09)(228,0.02)(232,0.05)(236,0.07)(240,0.0)(244,-0.04)(248,0.01)(252,0.03)(256,-0.01)(260,0.0)(270,0.01)(280,-0.01)(300,0.0)(320,0.01)(340,0.0)(360,0.01)(380,0.0)(400,0.01)(420,0.0)(440,0.01)(460,0.0)(480,0.01)(500,0.0)};
\addplot[tr,rd] coordinates {(0,0.0)(40,0.0)(80,0.01)(120,0.0)(160,0.01)(180,0.0)(190,-0.01)(200,-0.01)(210,0.0)(220,-0.01)(230,0.0)(240,-0.01)(250,-0.02)(255,-0.03)(262,0.0)(268,0.03)(274,0.02)(280,-0.03)(285,-0.05)(290,0.01)(296,0.07)(301,0.0)(306,-0.05)(312,0.0)(318,0.04)(322,0.0)(326,-0.05)(332,0.01)(336,0.02)(340,-0.01)(346,0.0)(350,-0.01)(360,-0.02)(370,-0.01)(380,-0.01)(390,-0.02)(400,-0.01)(420,-0.02)(440,-0.01)(460,-0.02)(480,-0.01)(500,-0.01)};
\end{axis}
\begin{axis}[panel, colC, bottom, name=cE, at={(420.5pt,155pt)}]
\draw[vl] (axis cs:180,-1) -- (axis cs:180,1);
\addplot[tr,bl] coordinates {(0,0.0)(10,0.0)(20,-0.01)(30,0.0)(40,-0.01)(45,-0.03)(50,-0.07)(55,-0.12)(60,-0.15)(64,-0.20)(68,-0.27)(72,-0.30)(76,-0.22)(80,-0.05)(84,0.05)(88,0.11)(92,0.12)(95,-0.05)(98,-0.20)(101,-0.14)(104,-0.05)(108,-0.09)(112,-0.06)(116,-0.08)(120,-0.07)(130,-0.08)(140,-0.07)(150,-0.08)(160,-0.07)(170,-0.08)(180,-0.07)(190,-0.08)(200,-0.07)(220,-0.08)(240,-0.07)(260,-0.08)(280,-0.07)(300,-0.08)(320,-0.07)(340,-0.08)(360,-0.07)(380,-0.08)(400,-0.075)(420,-0.08)(440,-0.075)(460,-0.08)(480,-0.075)(500,-0.08)};
\addplot[tr,bl2] coordinates {(0,0.0)(10,0.0)(20,0.01)(30,0.0)(40,-0.01)(50,-0.03)(55,-0.06)(60,-0.10)(65,-0.12)(70,-0.08)(75,-0.02)(80,0.04)(84,0.09)(88,0.05)(92,-0.08)(96,-0.12)(100,-0.05)(104,-0.03)(108,-0.06)(112,-0.03)(116,-0.05)(120,-0.02)(125,-0.04)(130,-0.03)(140,-0.04)(150,-0.03)(160,-0.04)(170,-0.03)(180,-0.04)(200,-0.03)(220,-0.04)(240,-0.03)(260,-0.04)(280,-0.03)(300,-0.04)(320,-0.03)(340,-0.035)(360,-0.03)(380,-0.035)(400,-0.04)(420,-0.035)(440,-0.04)(460,-0.035)(480,-0.04)(500,-0.04)};
\addplot[tr,lg] coordinates {(0,0.0)(20,-0.01)(40,0.0)(60,-0.01)(80,0.0)(100,-0.01)(120,0.0)(140,-0.01)(160,-0.01)(170,-0.03)(175,0.01)(180,0.04)(185,0.09)(190,0.02)(195,-0.03)(200,0.05)(205,0.03)(210,0.06)(215,0.02)(220,0.0)(230,0.02)(240,0.0)(250,-0.01)(260,0.01)(280,0.0)(300,-0.01)(320,0.0)(340,-0.01)(360,0.0)(380,-0.01)(400,0.0)(420,-0.01)(440,0.0)(460,-0.01)(480,0.0)(500,-0.01)};
\addplot[tr,yg] coordinates {(0,0.0)(20,0.01)(40,0.0)(60,0.01)(80,0.0)(100,0.01)(120,0.0)(140,0.01)(160,0.0)(170,0.0)(175,-0.04)(180,-0.02)(185,0.05)(190,-0.04)(195,-0.09)(200,-0.13)(204,-0.05)(208,0.03)(212,0.0)(216,0.04)(220,0.01)(230,0.0)(240,0.02)(260,0.0)(280,0.01)(300,0.0)(320,0.01)(340,0.0)(360,0.01)(380,0.0)(400,0.01)(420,0.0)(440,0.01)(460,0.0)(480,0.01)(500,0.0)};
\addplot[tr,ye] coordinates {(0,0.0)(20,0.0)(40,0.01)(60,0.0)(80,0.01)(100,0.0)(120,0.01)(140,0.0)(160,0.01)(180,0.0)(200,0.0)(205,0.04)(209,0.09)(212,0.11)(215,0.03)(218,-0.05)(222,-0.14)(225,-0.15)(228,-0.04)(232,0.03)(236,0.07)(240,0.0)(245,0.01)(250,0.0)(260,0.02)(280,0.0)(300,0.01)(320,0.0)(340,0.01)(360,0.0)(380,0.01)(400,0.0)(420,0.01)(440,0.0)(460,0.01)(480,0.0)(500,0.01)};
\addplot[tr,rd] coordinates {(0,0.0)(40,0.0)(80,0.0)(120,0.01)(160,0.0)(180,0.01)(200,0.01)(220,0.01)(240,0.01)(248,-0.01)(254,-0.03)(260,0.0)(266,0.04)(272,0.03)(278,-0.01)(284,0.01)(290,0.03)(296,-0.01)(300,-0.04)(305,0.02)(310,0.03)(315,-0.02)(319,-0.05)(324,0.02)(328,0.05)(332,0.0)(336,-0.02)(340,0.01)(345,0.02)(350,0.0)(360,0.01)(370,0.0)(380,0.02)(390,0.0)(400,0.01)(420,0.0)(440,0.01)(460,0.0)(480,0.01)(500,0.01)};
\end{axis}

% component tags
\cmp{aU}{U}\cmp{aN}{N}\cmp{aE}{E}
\cmp{bU}{U}\cmp{bN}{N}\cmp{bE}{E}
\cmp{cU}{U}\cmp{cN}{N}\cmp{cE}{E}

% titles
\node[anchor=base, font=\fs] at ([yshift=6.5pt]aU.north) {Mw 7.6 Nicoya};
\node[anchor=base west, font=\fs\bfseries] at ([xshift=-2pt,yshift=6.5pt]aU.north west) {(a)};
\node[anchor=base, font=\fs] at ([yshift=6.5pt]bU.north) {Mw 7.7 Mentawai};
\node[anchor=base west, font=\fs\bfseries] at ([xshift=-2pt,yshift=6.5pt]bU.north west) {(b)};
\node[anchor=base, font=\fs] at ([yshift=6.5pt]cU.north) {Mw 8.2 Tehuantepec};
\node[anchor=base west, font=\fs\bfseries] at ([xshift=-2pt,yshift=6.5pt]cU.north west) {(c)};

% colour bar
\begin{axis}[at={(216pt,24pt)}, anchor=north west, scale only axis, width=167pt, height=8.5pt,
  xmin=0, xmax=10, ymin=0, ymax=1, ytick=\empty, colormap name=spec,
  xtick={0,2,4,6,8,10}, xticklabels={0°,2°,4°,6°,8°,10°},
  xtick pos=right, xticklabel pos=right, tick align=outside, major tick length=2.5pt,
  axis line style={black!70, line width=0.5pt}, tick style={black!75, line width=0.5pt},
  tick label style={font=\fs}]
\addplot[surf, shader=interp, mesh/rows=2, point meta=x] coordinates {
(0,0)(1,0)(2,0)(3,0)(4,0)(5,0)(6,0)(7,0)(8,0)(9,0)(10,0)
(0,1)(1,1)(2,1)(3,1)(4,1)(5,1)(6,1)(7,1)(8,1)(9,1)(10,1)};
\end{axis}
\begin{axis}[at={(216pt,24pt)}, anchor=north west, scale only axis, width=167pt, height=8.5pt,
  xmin=0, xmax=1024.5, ymin=0, ymax=1, ytick=\empty, axis line style={draw=none},
  xtick={0,250,500,750,1000}, xticklabels={0,250,500,750,1000},
  xtick pos=left, tick align=outside, major tick length=2.5pt,
  tick style={black!75, line width=0.5pt}, tick label style={font=\fs}]
\end{axis}
\node[anchor=base, font=\fs] at (299.5pt,42.5pt) {Epicentral Distance};
\node[anchor=base west, inner sep=0pt, font=\fs] at (397.5pt,3.5pt) {[km]};
\end{tikzpicture}
\end{document}
